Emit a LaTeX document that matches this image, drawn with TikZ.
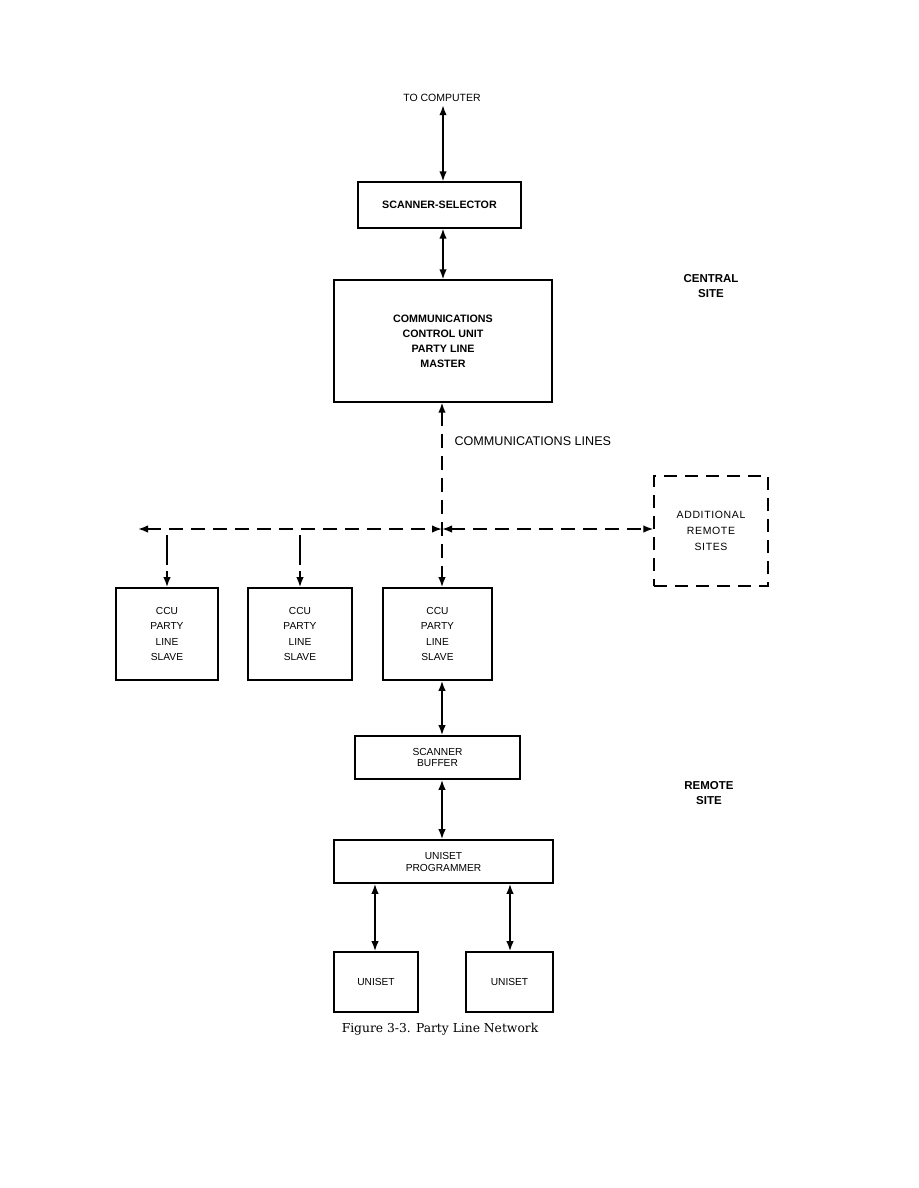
\documentclass[tikz,border=0pt]{standalone}
\usepackage{fontspec}
\setmainfont{DejaVu Serif}
\newfontfamily\hv{Liberation Sans}
\newfontfamily\hvwide[LetterSpace=6]{Liberation Sans}
\usetikzlibrary{arrows.meta,calc}
\tikzset{
  ctip/.tip={Latex[length=10pt,width=7.5pt]},
  box/.style={draw,line width=1.8pt,inner sep=0pt,align=center,font=\hv\fontsize{10.2}{15.2}\selectfont},
  boldbox/.style={box,line width=1.4pt,font=\hv\bfseries\fontsize{10.7}{15}\selectfont},
  dashbox/.style={box,line width=1.4pt,dash pattern=on 13pt off 8pt,font=\hvwide\fontsize{10.5}{16}\selectfont},
  link/.style={line width=1.6pt,ctip-ctip},
  dashlink/.style={line width=1.6pt,dash pattern=on 14pt off 8pt,ctip-ctip},
  droplink/.style={line width=1.6pt,dash pattern=on 30pt off 6pt,-ctip},
  sitelabel/.style={align=center,font=\hv\bfseries\fontsize{11.5}{15}\selectfont},
}
\begin{document}
\begin{tikzpicture}[x=1pt,y=-1pt]
  \useasboundingbox (0,0) rectangle (918,1188);
  % central site
  \node[font=\hv\fontsize{10.5}{12}\selectfont] (tocomp) at (442,98) {TO COMPUTER};
  \node[boldbox,minimum width=163pt,minimum height=46pt] (selector) at (439.5,205) {SCANNER-SELECTOR};
  \node[boldbox,minimum width=218pt,minimum height=122pt] (master) at (443,341)
    {COMMUNICATIONS\\CONTROL UNIT\\PARTY LINE\\MASTER};
  \draw[link] (tocomp.south -| master.north) -- (selector.north -| master.north);
  \draw[link] (selector.south -| master.north) -- (master.north);
  \node[sitelabel] (central) at (711,286) {CENTRAL\\SITE};
  % communications lines
  \coordinate (hub) at (442,529);
  \coordinate (westend) at (138,529);
  \node[anchor=west,font=\hv\fontsize{12.6}{14}\selectfont] (commlbl) at (451,441) {COMMUNICATIONS LINES};
  \node[dashbox,minimum width=114pt,minimum height=110pt] (addl) at (711,531)
    {ADDITIONAL\\REMOTE\\SITES};
  % slaves
  \node[box,minimum width=102pt,minimum height=92pt] (slave1) at (167,634) {CCU\\PARTY\\LINE\\SLAVE};
  \node[box,minimum width=104pt,minimum height=92pt] (slave2) at (300,634) {CCU\\PARTY\\LINE\\SLAVE};
  \node[box,minimum width=109pt,minimum height=92pt] (slave3) at (437.5,634) {CCU\\PARTY\\LINE\\SLAVE};
  \draw[dashlink] (master.south -| hub) -- (slave3.north -| hub);
  \draw[dashlink] (westend) -- (hub);
  \draw[dashlink] (hub) -- (addl.west |- hub);
  \draw[droplink] ($(slave1.north |- hub)+(0,6)$) -- (slave1.north);
  \draw[droplink] ($(slave2.north |- hub)+(0,6)$) -- (slave2.north);
  % remote site
  \node[box,minimum width=165pt,minimum height=43pt,font=\hv\fontsize{10.2}{10.5}\selectfont] (buffer) at (437.5,757.5) {SCANNER\\BUFFER};
  \node[box,minimum width=219pt,minimum height=43pt,font=\hv\fontsize{10.2}{12}\selectfont] (prog) at (443.5,861.5) {UNISET\\PROGRAMMER};
  \draw[link] (slave3.south -| hub) -- (buffer.north -| hub);
  \draw[link] (buffer.south -| hub) -- (prog.north -| hub);
  \node[box,minimum width=84pt,minimum height=60pt] (uniset1) at (376,982) {UNISET};
  \node[box,minimum width=87pt,minimum height=60pt] (uniset2) at (509.5,982) {UNISET};
  \draw[link] (prog.south -| 375,0) -- (uniset1.north -| 375,0);
  \draw[link] (prog.south -| 510,0) -- (uniset2.north -| 510,0);
  \node[sitelabel] (remote) at (709,793) {REMOTE\\SITE};
  % caption
  \node[font=\fontsize{12.3}{14}\selectfont] (caption) at (440,1029) {Figure 3-3. Party Line Network};
\end{tikzpicture}
\end{document}
